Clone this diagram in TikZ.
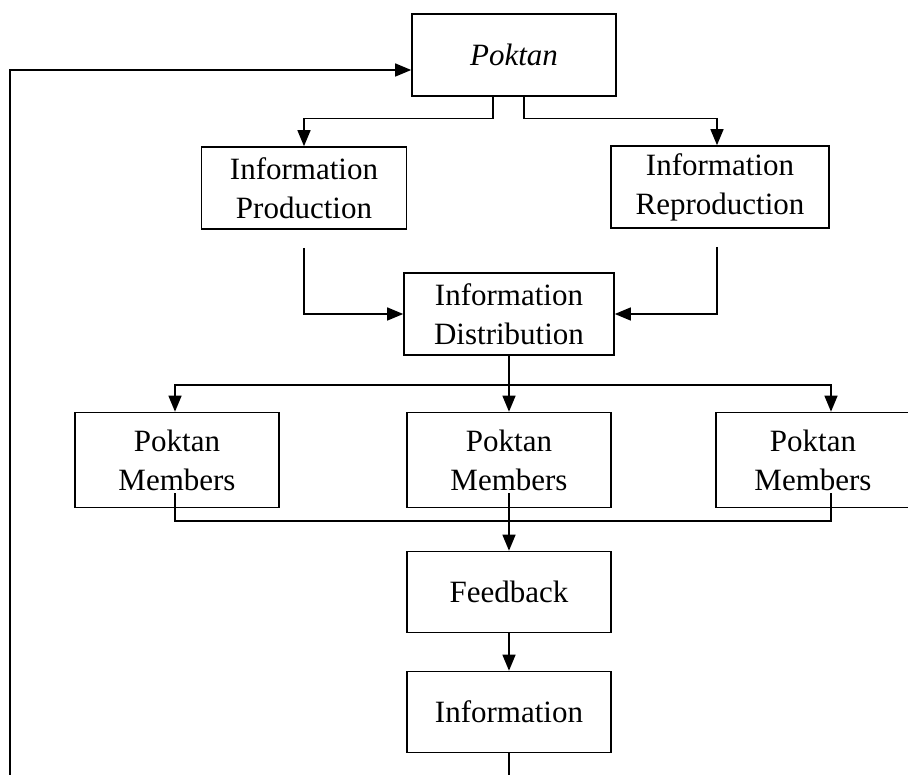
\documentclass[tikz,border=0pt]{standalone}
\usepackage{fontspec}
\setmainfont{Liberation Serif}
\usetikzlibrary{arrows.meta}

\tikzset{
  box/.style={rectangle, draw, line width=1.6pt, align=center, inner sep=0pt,
    minimum width=204pt, minimum height=82pt, font=\fontsize{31}{39}\selectfont},
  arr/.style={line width=1.4pt, -{Triangle[length=16pt,width=13pt]}},
  ln/.style={line width=1.4pt}
}

\begin{document}
\begin{tikzpicture}[x=1pt,y=-1pt]
        \useasboundingbox (0,0) rectangle (908,775);

        \node[box] (poktan) at (514,55) {\textit{Poktan}};
        \node[box, minimum width=205pt] (prod) at (304,188) {Information\\Production};
        \node[box, minimum width=218pt] (repro) at (720,187) {Information\\Reproduction};
        \node[box, minimum width=210pt] (dist) at (509,314) {Information\\Distribution};
        \node[box, minimum height=95pt] (mem1) at (177,460) {Poktan\\Members};
        \node[box, minimum height=95pt] (mem2) at (509,460) {Poktan\\Members};
        \node[box, minimum height=95pt, minimum width=194pt] (mem3) at (813,460) {Poktan\\Members};
        \node[box, minimum height=81pt] (feed) at (509,592) {Feedback};
        \node[box, minimum height=81pt] (info) at (509,712) {Information};

        \coordinate (split) at (509,385);
        \coordinate (join) at (509,521);
        \coordinate (loop) at (10,70);

        \draw[arr] ([xshift=-21pt]poktan.south) -- ++(0,-22pt) -| (prod.north);
        \draw[arr] ([xshift=10pt]poktan.south) -- ++(0,-22pt) -| ([xshift=-3pt]repro.north);
        \draw[arr] ([yshift=-18pt]prod.south) |- (dist.west);
        \draw[arr] ([xshift=-3pt,yshift=-18pt]repro.south) |- (dist.east);
        \draw[ln] (dist.south) -- (split);
        \draw[arr] (split) -| ([xshift=-2pt]mem1.north);
        \draw[arr] (split) -- (mem2.north);
        \draw[arr] (split) -| ([xshift=18pt]mem3.north);
        \draw[ln] ([xshift=-2pt,yshift=15pt]mem1.south) |- (join);
        \draw[ln] ([xshift=18pt,yshift=15pt]mem3.south) |- (join);
        \draw[arr] ([yshift=15pt]mem2.south) -- (feed.north);
        \draw[arr] (feed) -- (info);
        \draw[arr] (info.south) -- ++(0,-40pt) -| (loop) -- ([yshift=-15pt]poktan.west);
\end{tikzpicture}
\end{document}
